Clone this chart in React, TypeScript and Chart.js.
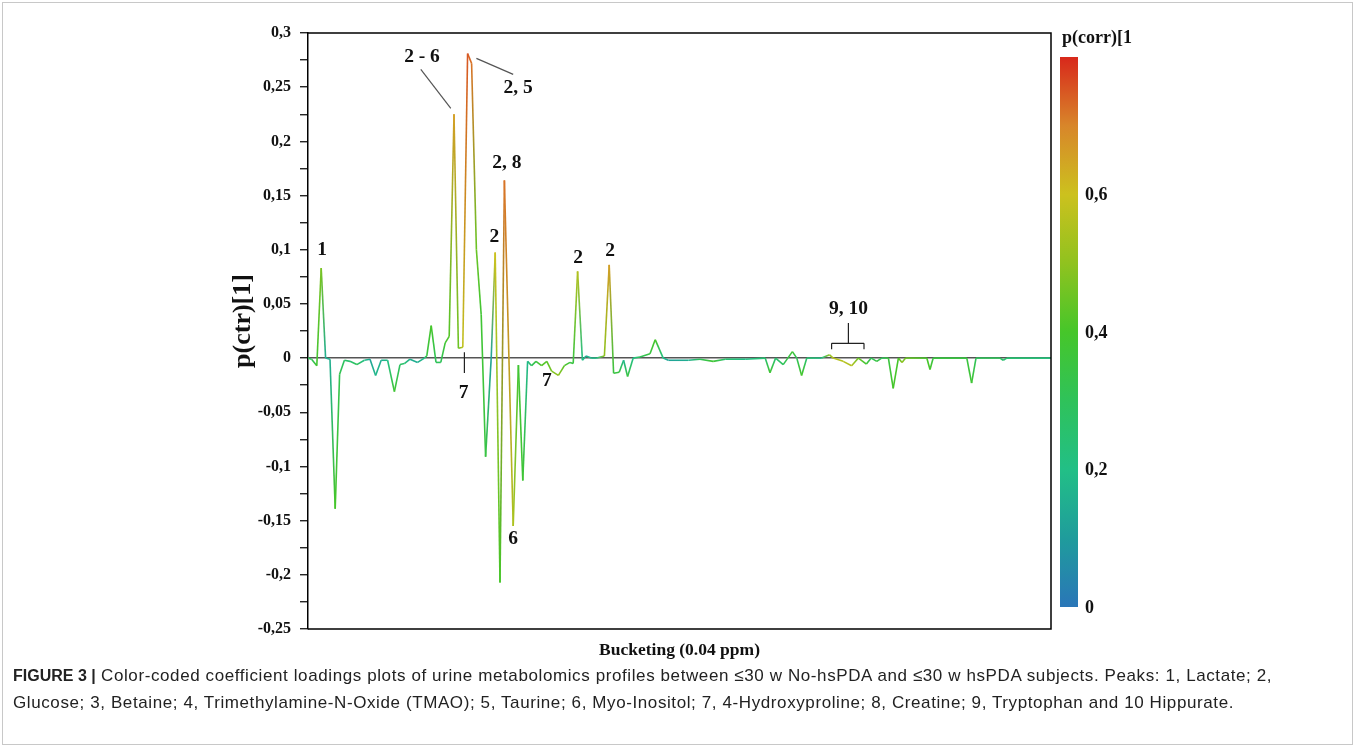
import React, { useEffect, useRef } from "react";
import { Chart, registerables } from "chart.js";

Chart.register(...registerables);

// ---- data (bucket index, loading p(ctr)[1], correlation p(corr)[1]) ----
const BUCKETS = [
  0, 0.9, 2.2, 3.3, 4.4, 5.5, 6.8, 7.9, 9.1, 10.5, 12.2, 14.1, 15.5, 16.9, 18.3, 19.9, 21.6, 23, 24.1, 25.5,
  27.4, 29.1, 29.7, 30.8, 32, 33.2, 34.3, 35.3, 36.5, 37.6, 38.7, 39.9, 40.9, 42.1, 43.3, 44.4, 45.8, 46.8, 48, 49.1,
  51.3, 52.6, 53.7, 54.9, 55.9, 57, 58.4, 59.7, 60.9, 62.6, 64.1, 65.5, 66.3, 67.4, 68.6, 69.5, 70.8, 72.2, 74.1, 75.3,
  76.4, 77.8, 78.9, 79.9, 81.3, 83, 85.5, 86.8, 88.8, 90.1, 95.1, 98, 101.3, 104.3, 109.3, 114.3, 115.5, 116.9, 118.8, 121.1,
  122.2, 123.4, 124.7, 128.4, 130.4, 131.3, 133.8, 135.9, 137.6, 139.6, 140.8, 142.2, 143.4, 145.1, 146.3, 147.6, 148.5, 149.4, 154.7, 155.5,
  156.3, 164.7, 165.9, 167, 173, 173.8, 174.7, 185.75,
];
const LOADINGS = [
  0, -0.001, -0.007, 0.083, 0, -0.001, -0.139, -0.015, -0.002, -0.003, -0.006, -0.002, -0.001, -0.016, -0.002, -0.002, -0.031, -0.006, -0.005, -0.001,
  -0.004, 0, 0.002, 0.03, -0.004, -0.004, 0.014, 0.02, 0.225, 0.009, 0.01, 0.281, 0.272, 0.1, 0.04, -0.091, 0, 0.0975, -0.207, 0.164,
  -0.155, -0.0065, -0.113, -0.003, -0.007, -0.003, -0.007, -0.003, -0.012, -0.016, -0.007, -0.004, -0.005, 0.08, -0.002, 0.002, 0, 0, 0.002, 0.086,
  -0.014, -0.013, -0.002, -0.017, 0, 0.001, 0.004, 0.017, 0, -0.002, -0.002, -0.001, -0.003, -0.001, -0.001, 0, -0.0135, 0, -0.006, 0.006,
  0, -0.016, 0, 0, 0.003, 0, -0.003, -0.007, 0, -0.0055, 0, -0.003, 0, 0, -0.028, 0, -0.004, 0, 0, -0.0105,
  0, 0, -0.023, 0, 0, -0.002, 0, 0,
];
const CORR = [
  0.3, 0.3, 0.38, 0.47, 0.15, 0.15, 0.4, 0.32, 0.28, 0.25, 0.3, 0.2, 0.12, 0.18, 0.15, 0.2, 0.38, 0.28, 0.25, 0.15,
  0.15, 0.2, 0.35, 0.4, 0.3, 0.3, 0.38, 0.42, 0.66, 0.45, 0.58, 0.75, 0.72, 0.45, 0.38, 0.35, 0.12, 0.6, 0.4, 0.72,
  0.55, 0.38, 0.38, 0.18, 0.3, 0.35, 0.42, 0.42, 0.47, 0.5, 0.42, 0.35, 0.35, 0.56, 0.2, 0.15, 0.18, 0.2, 0.5, 0.66,
  0.35, 0.35, 0.18, 0.35, 0.2, 0.3, 0.35, 0.4, 0.2, 0.12, 0.15, 0.3, 0.38, 0.25, 0.2, 0.25, 0.38, 0.25, 0.3, 0.38,
  0.3, 0.4, 0.25, 0.2, 0.5, 0.56, 0.56, 0.56, 0.45, 0.38, 0.3, 0.35, 0.3, 0.35, 0.4, 0.4, 0.5, 0.45, 0.4, 0.4,
  0.35, 0.35, 0.38, 0.3, 0.3, 0.25, 0.25, 0.22,
];

const X_MAX = 185.75;
const Y_MIN = -0.25;
const Y_MAX = 0.3;
const Y_TICK_STEP = 0.025;
const Y_LABEL_STEP = 0.05;

const COLORBAR_MAX = 0.8;
const COLORBAR_TICKS = [0, 0.2, 0.4, 0.6];
const COLOR_STOPS: [number, string][] = [
  [0, "#2a76b8"],
  [0.1, "#1f9c9c"],
  [0.2, "#22bf86"],
  [0.3, "#2fc25a"],
  [0.4, "#46c62a"],
  [0.5, "#90c21f"],
  [0.6, "#ccc11e"],
  [0.7, "#d8862a"],
  [0.8, "#d8281b"],
];

const PEAK_LABELS = [
  { text: "1", x: 3.5, y: 0.1 },
  { text: "2 - 6", x: 28.5, y: 0.278 },
  { text: "2, 5", x: 52.5, y: 0.249 },
  { text: "2, 8", x: 49.7, y: 0.18 },
  { text: "2", x: 46.6, y: 0.1117 },
  { text: "7", x: 38.9, y: -0.0323 },
  { text: "6", x: 51.3, y: -0.167 },
  { text: "7", x: 59.7, y: -0.0212 },
  { text: "2", x: 67.5, y: 0.0923 },
  { text: "2", x: 75.5, y: 0.0987 },
  { text: "9, 10", x: 135.1, y: 0.0452 },
];
const LEADER_LINES = [
  { x0: 28.2, y0: 0.2664, x1: 35.7, y1: 0.2304, color: "#555" },
  { x0: 42.1, y0: 0.2766, x1: 51.3, y1: 0.2618, color: "#555" },
  { x0: 39.1, y0: 0.0055, x1: 39.1, y1: -0.0138, color: "#222" },
  { x0: 135.1, y0: 0.0323, x1: 135.1, y1: 0.0136, color: "#222" },
  { x0: 130.9, y0: 0.0136, x1: 139.0, y1: 0.0136, color: "#222" },
  { x0: 130.9, y0: 0.0136, x1: 130.9, y1: 0.0082, color: "#222" },
  { x0: 139.0, y0: 0.0136, x1: 139.0, y1: 0.0082, color: "#222" },
];

const SERIF = '"Liberation Serif", "Times New Roman", serif';

function hexToRgb(h: string) {
  const n = parseInt(h.slice(1), 16);
  return [(n >> 16) & 255, (n >> 8) & 255, n & 255];
}
function corrColor(v: number) {
  if (v <= COLOR_STOPS[0][0]) return COLOR_STOPS[0][1];
  for (let i = 1; i < COLOR_STOPS.length; i++) {
    if (v <= COLOR_STOPS[i][0]) {
      const t = (v - COLOR_STOPS[i - 1][0]) / (COLOR_STOPS[i][0] - COLOR_STOPS[i - 1][0]);
      const a = hexToRgb(COLOR_STOPS[i - 1][1]);
      const b = hexToRgb(COLOR_STOPS[i][1]);
      const c = a.map((av, k) => Math.round(av + (b[k] - av) * t));
      return `rgb(${c[0]},${c[1]},${c[2]})`;
    }
  }
  return COLOR_STOPS[COLOR_STOPS.length - 1][1];
}
function fmt(v: number) {
  const r = Math.round(v * 1000) / 1000;
  return String(r === 0 ? 0 : r).replace(".", ",");
}

export default function App() {
  const canvasRef = useRef<HTMLCanvasElement | null>(null);

  useEffect(() => {
    const canvas = canvasRef.current!;
    const g2d = canvas.getContext("2d")!;

    const decorations = {
      id: "decorations",
      afterDraw(chart: any) {
        const { ctx, chartArea: a, scales } = chart;
        const xs = scales.x;
        const ys = scales.y;
        ctx.save();
        // frame (top, right, bottom)
        ctx.strokeStyle = "#000";
        ctx.lineWidth = 1.5;
        ctx.beginPath();
        ctx.moveTo(a.left, a.top);
        ctx.lineTo(a.right, a.top);
        ctx.lineTo(a.right, a.bottom);
        ctx.lineTo(a.left, a.bottom);
        ctx.stroke();

        // leader lines
        LEADER_LINES.forEach((l) => {
          ctx.strokeStyle = l.color;
          ctx.lineWidth = 1.2;
          ctx.beginPath();
          ctx.moveTo(xs.getPixelForValue(l.x0), ys.getPixelForValue(l.y0));
          ctx.lineTo(xs.getPixelForValue(l.x1), ys.getPixelForValue(l.y1));
          ctx.stroke();
        });

        // peak labels
        ctx.fillStyle = "#111";
        ctx.font = `bold 19.5px ${SERIF}`;
        ctx.textAlign = "center";
        ctx.textBaseline = "middle";
        PEAK_LABELS.forEach((p) => {
          ctx.fillText(p.text, xs.getPixelForValue(p.x), ys.getPixelForValue(p.y));
        });

        // axis titles
        ctx.font = `bold 26px ${SERIF}`;
        ctx.save();
        ctx.translate(243, 321);
        ctx.rotate(-Math.PI / 2);
        ctx.fillText("p(ctr)[1]", 0, 0);
        ctx.restore();
        ctx.font = `bold 17.5px ${SERIF}`;
        ctx.fillText("Bucketing (0.04 ppm)", (a.left + a.right) / 2, 650);

        // colorbar
        const cbL = a.right + 9;
        const cbW = 18;
        const cbTop = 57;
        const cbBot = 607;
        const grad = ctx.createLinearGradient(0, cbBot, 0, cbTop);
        COLOR_STOPS.forEach(([v, c]) => grad.addColorStop(v / COLORBAR_MAX, c));
        ctx.fillStyle = grad;
        ctx.fillRect(cbL, cbTop, cbW, cbBot - cbTop);
        ctx.fillStyle = "#111";
        ctx.font = `bold 18px ${SERIF}`;
        ctx.textAlign = "left";
        COLORBAR_TICKS.forEach((v) => {
          const y = cbBot - (v / COLORBAR_MAX) * (cbBot - cbTop);
          ctx.fillText(fmt(v), cbL + cbW + 7, y + 1);
        });
        ctx.font = `bold 18px ${SERIF}`;
        ctx.fillText("p(corr)[1", cbL + 2, 38);
        ctx.restore();
      },
    };

    const chart = new Chart(canvas, {
      type: "line",
      data: {
        datasets: [
          {
            data: BUCKETS.map((b, i) => ({ x: b, y: LOADINGS[i] })),
            borderWidth: 1.6,
            pointRadius: 0,
            tension: 0,
            borderColor: "#46c62a",
            segment: {
              borderColor: (sc: any) => {
                const c0 = corrColor(CORR[sc.p0DataIndex]);
                const c1 = corrColor(CORR[sc.p1DataIndex]);
                const p0 = sc.p0;
                const p1 = sc.p1;
                if (!p0 || !p1 || !isFinite(p0.x) || !isFinite(p1.x) || (p0.x === p1.x && p0.y === p1.y)) return c0;
                const g = g2d.createLinearGradient(p0.x, p0.y, p1.x, p1.y);
                g.addColorStop(0, c0);
                g.addColorStop(1, c1);
                return g;
              },
            },
          },
        ],
      },
      options: {
        responsive: false,
        animation: false,
        devicePixelRatio: 1,
        layout: { padding: { left: 0, top: 33, right: 304, bottom: 117 } },
        plugins: { legend: { display: false }, tooltip: { enabled: false } },
        scales: {
          x: { type: "linear", min: 0, max: X_MAX, display: false },
          y: {
            type: "linear",
            min: Y_MIN,
            max: Y_MAX,
            afterFit: (s: any) => {
              s.width = 308;
            },
            border: { display: true, color: "#000", width: 1.5 },
            grid: {
              drawOnChartArea: true,
              color: (c: any) => (c.tick && Math.abs(c.tick.value) < 1e-9 ? "#555" : "rgba(0,0,0,0)"),
              lineWidth: 1.5,
              tickColor: "#000",
              tickLength: 8,
              tickWidth: 1.2,
            },
            ticks: {
              stepSize: Y_TICK_STEP,
              autoSkip: false,
              padding: 9,
              color: "#111",
              font: { family: SERIF, size: 16, weight: "bold" },
              callback: (v: any) => {
                const n = Math.round(Number(v) * 1000);
                return n % Math.round(Y_LABEL_STEP * 1000) === 0 ? fmt(Number(v)) : "";
              },
            },
          },
        },
      },
      plugins: [decorations],
    } as any);

    return () => chart.destroy();
  }, []);

  return (
    <div style={{ position: "absolute", left: 0, top: 0, width: 1355, height: 746, overflow: "hidden", background: "#fff" }}>
      <div style={{ position: "absolute", left: 2, top: 2, width: 1349, height: 741, border: "1px solid #c8c8c8" }} />
      <canvas ref={canvasRef} width={1355} height={746} style={{ position: "absolute", left: 0, top: 0 }} />
      <div
        style={{
          position: "absolute",
          left: 13,
          top: 662,
          width: 1330,
          whiteSpace: "nowrap",
          fontFamily: '"Liberation Sans", Arial, sans-serif',
          fontSize: 17,
          letterSpacing: "0.6px",
          lineHeight: "27px",
          color: "#222",
        }}
      >
        <b style={{ fontSize: 16, letterSpacing: 0 }}>FIGURE 3 |</b> Color-coded coefficient loadings plots of urine metabolomics profiles between ≤30 w No-hsPDA and ≤30 w hsPDA subjects. Peaks: 1, Lactate; 2,
        <br />
        Glucose; 3, Betaine; 4, Trimethylamine-N-Oxide (TMAO); 5, Taurine; 6, Myo-Inositol; 7, 4-Hydroxyproline; 8, Creatine; 9, Tryptophan and 10 Hippurate.
      </div>
    </div>
  );
}
